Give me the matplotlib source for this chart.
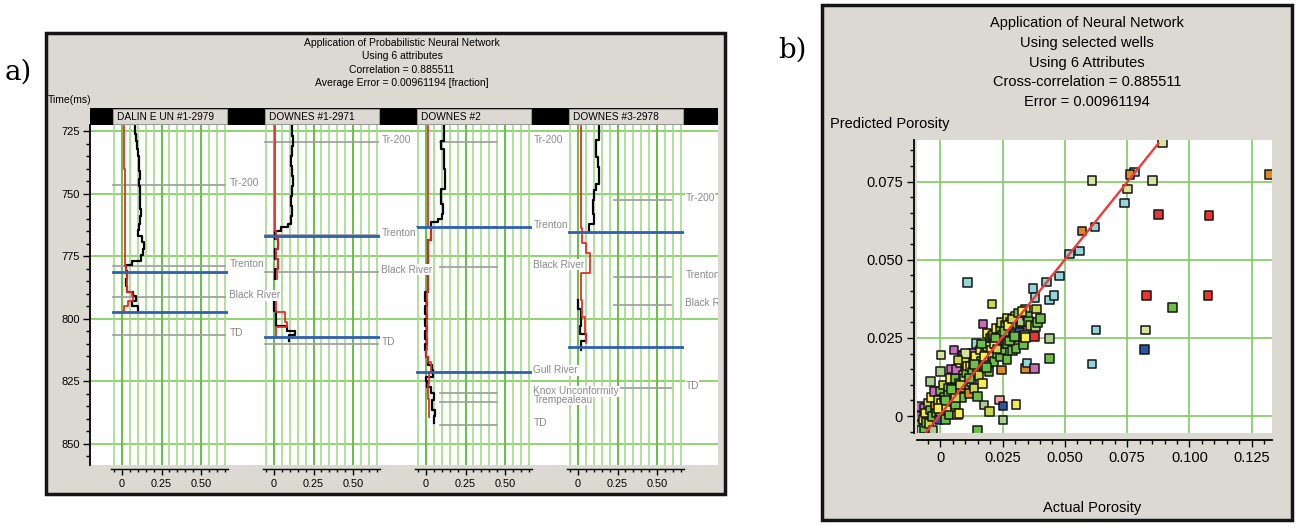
import matplotlib
matplotlib.use('Agg')
import numpy as np
import matplotlib.pyplot as plt
from matplotlib.patches import Rectangle
from matplotlib.ticker import MultipleLocator, FixedLocator, FixedFormatter
import matplotlib.transforms as mtransforms

plt.rcParams['font.family'] = ['Liberation Sans', 'DejaVu Sans']
nan = float('nan')

# ======================= DATA : panel a =======================
title_a = ['Application of Probabilistic Neural Network', 'Using 6 attributes',
           'Correlation = 0.885511', 'Average Error = 0.00961194 [fraction]']
well_names = ['DALIN E UN #1-2979', 'DOWNES #1-2971', 'DOWNES #2', 'DOWNES #3-2978']
time_ticks = [725, 750, 775, 800, 825, 850]
track_ticks = [0, 0.25, 0.50]
track_tick_labels = ['0', '0.25', '0.50']

# well 1
w1_act_t = [723, 726, 729, 732, 735, 738, 741, 744, 747, 750, 753, 756, 759, 762, 764.5,
            767, 769.5, 772, 774.5, 777, 778.5, 781, 784, 787, 789.5, 791, 793, 795, 797]
w1_act_v = [0.082, 0.088, 0.095, 0.100, 0.106, 0.110, 0.112, 0.108, 0.113, 0.115, 0.112,
            0.118, 0.114, 0.110, 0.099, 0.125, 0.140, 0.132, 0.118, 0.062, 0.025, 0.030,
            0.028, 0.034, 0.072, 0.090, 0.066, 0.100, 0.100]
w1_pred_t = [723, 740, 760, 779, 782, 786, 789.2, 791, 793, 795, 797]
w1_pred_v = [0.015, 0.017, 0.016, 0.028, 0.034, 0.030, 0.062, 0.072, 0.040, 0.012, 0.012]
# well 2
w2_act_t = [723, 727, 731, 735, 739, 743, 747, 751, 755, 759, 762, 763.5, 765, 768, 772,
            776, 780, 784, 793, 797, 803, 805, 806.5, 809]
w2_act_v = [0.112, 0.118, 0.114, 0.110, 0.115, 0.120, 0.112, 0.108, 0.115, 0.110, 0.090,
            0.045, 0.005, 0.025, 0.004, 0.028, 0.009, nan, 0.002, 0.010, 0.080, 0.135,
            0.095, 0.095]
w2_pred_t = [723, 740, 760, 765, 768, 772, 776, 780, 784, 793, 797.2, 801.2, 803.2, 805.1, 807.1]
w2_pred_v = [0.008, 0.009, 0.008, 0.015, 0.025, 0.012, 0.028, 0.018, nan, 0.010, 0.070,
             0.084, 0.010, 0.010, 0.010]
# well 3
w3_act_t = [723, 729, 732, 740, 748, 754, 758, 760, 761.2, 763.2, 768.5, 789.2, 793, 795,
            798, 800, 803, 805, 808, 810, 812.5, 815.1, 818.5, 820.5, 823.1, 825, 827.1,
            829.8, 832.5, 836.5, 839, 841.8]
w3_act_v = [0.111, 0.097, 0.111, 0.118, 0.097, 0.105, 0.100, 0.075, 0.030, 0.029, 0.011,
            -0.004, 0.004, -0.004, 0.004, -0.004, 0.004, -0.004, 0.004, -0.004, 0.000,
            0.012, 0.035, 0.045, -0.002, 0.005, 0.030, 0.050, 0.040, 0.055, 0.050, 0.050]
w3_pred_t = [723, 763.2, 768.5, 789.2, 812.5, 815.1, 817.1, 821.1, 826, 832, 839.1]
w3_pred_v = [0.013, 0.029, 0.011, 0.004, 0.000, 0.012, 0.030, 0.018, 0.014, 0.020, 0.020]
# well 4
w4_act_t = [723, 728.6, 735.3, 739.3, 746, 748.6, 752.6, 758, 762, 764.9,
            792.5, 796, 799.2, 803, 806, 809, 812.5]
w4_act_v = [0.131, 0.117, 0.125, 0.133, 0.117, 0.103, 0.093, 0.103, 0.067, nan,
            0.002, 0.020, 0.022, 0.012, 0.050, 0.020, 0.020]
w4_pred_t = [723, 763.9, 769.9, 773.9, 781.9, 792.5, 799.2, 805.8, 809.8]
w4_pred_v = [0.017, 0.027, 0.053, 0.074, 0.017, 0.027, 0.042, 0.049, 0.049]

actual_t = [w1_act_t, w2_act_t, w3_act_t, w4_act_t]
actual_v = [w1_act_v, w2_act_v, w3_act_v, w4_act_v]
pred_t = [w1_pred_t, w2_pred_t, w3_pred_t, w4_pred_t]
pred_v = [w1_pred_v, w2_pred_v, w3_pred_v, w4_pred_v]

# zone boundaries (blue) per well
blue_times = [[781.4, 797.4], [766.9, 807.4], [763.2, 821.1], [765.2, 811.1]]
# formation tops per well
top_names = [['Tr-200', 'Trenton', 'Black River', 'TD'],
             ['Tr-200', 'Trenton', 'Black River', 'TD'],
             ['Tr-200', 'Trenton', 'Black River', 'Gull River', 'Knox Unconformity',
              'Trempealeau', 'TD'],
             ['Tr-200', 'Trenton', 'Black River', 'TD']]
top_times = [[746.6, 778.8, 791.4, 806.5],
             [729.5, 766.5, 781.2, 810.2],
             [729.5, 763.2, 779.2, 821.4, 829.7, 833.2, 842.4],
             [752.6, 783.4, 794.5, 827.6]]

# ======================= DATA : panel b =======================
title_b = ['Application of Neural Network', 'Using selected wells', 'Using 6 Attributes',
           'Cross-correlation = 0.885511', 'Error = 0.00961194']
x_ticks_b = [0, 0.025, 0.050, 0.075, 0.100, 0.125]
x_tick_labels_b = ['0', '0.025', '0.050', '0.075', '0.100', '0.125']
y_ticks_b = [0, 0.025, 0.050, 0.075]
y_tick_labels_b = ['0', '0.025', '0.050', '0.075']

actual_porosity = [
    -0.0085, -0.0080, -0.0075, -0.0083, -0.0085, -0.0070, -0.0065, -0.0065, -0.0060, -0.0055,
    -0.0050, -0.0045, -0.0040, -0.0040, -0.0035, -0.0032, -0.0030, -0.0025, -0.0020, -0.0015,
    -0.0010, -0.0005, 0.0000, 0.0000, 0.0001, 0.0003, 0.0005, 0.0010, 0.0015, 0.0020,
    0.0025, 0.0030, 0.0032, 0.0035, 0.0040, 0.0045, 0.0050, 0.0055, 0.0055, 0.0060,
    0.0061, 0.0065, 0.0069, 0.0070, 0.0075, 0.0075, 0.0080, 0.0085, 0.0088, 0.0090,
    0.0093, 0.0095, 0.0098, 0.0101, 0.0105, 0.0109, 0.0110, 0.0115, 0.0120, 0.0125,
    0.0128, 0.0130, 0.0133, 0.0135, 0.0140, 0.0144, 0.0148, 0.0148, 0.0150, 0.0155,
    0.0160, 0.0165, 0.0168, 0.0171, 0.0175, 0.0178, 0.0182, 0.0187, 0.0188, 0.0190,
    0.0194, 0.0195, 0.0198, 0.0200, 0.0205, 0.0207, 0.0208, 0.0210, 0.0214, 0.0215,
    0.0220, 0.0225, 0.0230, 0.0235, 0.0238, 0.0240, 0.0242, 0.0245, 0.0246, 0.0247,
    0.0250, 0.0251, 0.0251, 0.0255, 0.0260, 0.0265, 0.0267, 0.0267, 0.0267, 0.0268,
    0.0275, 0.0280, 0.0285, 0.0290, 0.0295, 0.0300, 0.0304, 0.0304, 0.0310, 0.0318,
    0.0320, 0.0325, 0.0330, 0.0334, 0.0338, 0.0341, 0.0341, 0.0341, 0.0347, 0.0350,
    0.0354, 0.0360, 0.0371, 0.0377, 0.0377, 0.0380, 0.0381, 0.0385, 0.0390, 0.0401,
    0.0165, 0.0175, 0.0185, 0.0215, 0.0222, 0.0228, 0.0258, 0.0272, 0.0278, 0.0290,
    0.0298, 0.0312, 0.0328, 0.0060, 0.0020, -0.0010, 0.0045, 0.0080, 0.0118, 0.0138,
    0.0100, 0.0070,
    0.0427, 0.0438, 0.0438, 0.0438, 0.0457, 0.0478, 0.0518, 0.0558, 0.0568, 0.0608,
    0.0608, 0.0621, 0.0625, 0.0738, 0.0751, 0.0779, 0.0761, 0.0819, 0.0823, 0.0828,
    0.0852, 0.0875, 0.0892, 0.0932, 0.1075, 0.1079, 0.1322]
predicted_porosity = [
    -0.0040, -0.0030, -0.0045, 0.0000, 0.0030, -0.0010, -0.0040, 0.0025, 0.0010, -0.0020,
    0.0040, -0.0023, 0.0110, 0.0020, 0.0060, -0.0002, -0.0045, 0.0078, 0.0030, 0.0010,
    0.0050, -0.0010, 0.0014, 0.0080, 0.0142, 0.0195, 0.0040, 0.0100, 0.0060, -0.0010,
    0.0025, 0.0090, 0.0067, 0.0003, 0.0120, 0.0150, 0.0045, 0.0211, 0.0090, 0.0035,
    0.0120, 0.0149, 0.0003, 0.0075, 0.0009, 0.0105, 0.0170, 0.0060, 0.0195, 0.0130,
    0.0195, 0.0120, 0.0090, 0.0174, 0.0140, 0.0428, 0.0160, 0.0073, 0.0158, 0.0110,
    0.0200, 0.0140, 0.0168, 0.0089, 0.0190, 0.0232, 0.0062, -0.0045, 0.0150, 0.0130,
    0.0211, 0.0175, 0.0105, 0.0294, 0.0035, 0.0160, 0.0200, 0.0222, 0.0264, 0.0180,
    0.0168, 0.0142, 0.0014, 0.0250, 0.0210, 0.0358, 0.0254, 0.0190, 0.0259, 0.0174,
    0.0230, 0.0280, 0.0200, 0.0240, 0.0051, 0.0280, 0.0190, 0.0300, 0.0147, 0.0211,
    0.0260, 0.0032, -0.0013, 0.0230, 0.0290, 0.0240, 0.0312, 0.0259, 0.0181, 0.0232,
    0.0270, 0.0300, 0.0250, 0.0210, 0.0280, 0.0320, 0.0216, 0.0037, 0.0290, 0.0269,
    0.0300, 0.0302, 0.0250, 0.0227, 0.0260, 0.0252, 0.0343, 0.0152, 0.0170, 0.0320,
    0.0302, 0.0290, 0.0408, 0.0254, 0.0152, 0.0379, 0.0286, 0.0343, 0.0300, 0.0312,
    0.0230, 0.0190, 0.0155, 0.0230, 0.0250, 0.0215, 0.0270, 0.0290, 0.0240, 0.0310,
    0.0255, 0.0330, 0.0335, 0.0060, 0.0050, 0.0025, 0.0085, 0.0100, 0.0120, 0.0165,
    0.0200, 0.0180,
    0.0429, 0.0371, 0.0248, 0.0185, 0.0385, 0.0448, 0.0518, 0.0528, 0.0592, 0.0754,
    0.0166, 0.0605, 0.0275, 0.0682, 0.0727, 0.0781, 0.0773, 0.0213, 0.0275, 0.0385,
    0.0754, 0.0645, 0.0874, 0.0347, 0.0385, 0.0642, 0.0773]
point_group = [
    'CY', 'GR', 'PG', 'PK', 'PK', 'YG', 'GR', 'PK', 'YE', 'GR',
    'YG', 'YG', 'PG', 'GR', 'YE', 'GR', 'PG', 'PK', 'OR', 'GR',
    'YG', 'BL', 'GR', 'GR', 'PG', 'LG', 'YE', 'YG', 'GR', 'GR',
    'YE', 'GR', 'GR', 'GR', 'YE', 'PK', 'GR', 'PK', 'YG', 'GR',
    'GR', 'PK', 'YE', 'OR', 'YE', 'GR', 'YE', 'GR', 'PK', 'YG',
    'PK', 'YG', 'GR', 'YG', 'GR', 'CY', 'YE', 'OR', 'YE', 'CY',
    'PK', 'GR', 'YG', 'YG', 'YE', 'CY', 'GR', 'GR', 'GR', 'YG',
    'YE', 'GR', 'YE', 'PK', 'PG', 'GR', 'YG', 'YG', 'YE', 'CY',
    'GR', 'GR', 'YG', 'GR', 'YE', 'YG', 'GR', 'YG', 'YG', 'GR',
    'BL', 'YE', 'GR', 'YG', 'SA', 'GR', 'GR', 'YG', 'OR', 'GR',
    'YE', 'BL', 'PG', 'RD', 'GR', 'PG', 'YG', 'YE', 'GR', 'GR',
    'YG', 'GR', 'BL', 'GR', 'YG', 'YE', 'GR', 'YE', 'GR', 'BL',
    'YG', 'PG', 'GR', 'GR', 'YG', 'YE', 'YG', 'OR', 'CY', 'GR',
    'GR', 'YG', 'CY', 'RD', 'PK', 'CY', 'PG', 'YG', 'GR', 'GR',
    'GR', 'YE', 'GR', 'YE', 'GR', 'YG', 'GR', 'YE', 'GR', 'YG',
    'GR', 'GR', 'YE', 'YG', 'GR', 'YE', 'GR', 'YG', 'GR', 'GR',
    'LG', 'YG',
    'CY', 'CY', 'PG', 'GR', 'CY', 'CY', 'CY', 'CY', 'OR', 'LG',
    'CY', 'CY', 'CY', 'CY', 'LG', 'CY', 'OR', 'BL', 'LG', 'RD',
    'LG', 'RD', 'LG', 'GR', 'RD', 'RD', 'OR']
fit_x = [-0.0056, 0.0875]
fit_y = [-0.0050, 0.0872]

group_colors = {'LG': '#d7e59c', 'CY': '#8fd7dc', 'GR': '#6cbf46', 'YE': '#f6ee4c',
                'YG': '#c8d84a', 'PK': '#c96cbd', 'OR': '#da8a2a', 'RD': '#ee3333',
                'BL': '#2c55a6', 'SA': '#f2a3a0', 'PG': '#a8cf8c'}

# ======================= FIGURE =======================
W, H = 1300.0, 526.0
fig = plt.figure(figsize=(13, 5.26), dpi=100)
fig.patch.set_facecolor('white')


def fx(p):
    return p / W


def fy(p):
    return 1 - p / H


def ax_at(x0, y0, x1, y1, **kw):
    return fig.add_axes([fx(x0), fy(y1), (x1 - x0) / W, (y1 - y0) / H], **kw)


PANEL = '#dcd9d3'
fig.add_artist(Rectangle((fx(46), fy(494)), (725 - 46) / W, (494 - 33) / H,
                         transform=fig.transFigure, facecolor=PANEL,
                         edgecolor='#151515', lw=2.5, zorder=-5))
fig.add_artist(Rectangle((fx(822), fy(520)), (1292 - 822) / W, (520 - 5) / H,
                         transform=fig.transFigure, facecolor=PANEL,
                         edgecolor='#151515', lw=2.5, zorder=-5))

fig.text(fx(5), fy(72), 'a)', fontsize=20, family='DejaVu Serif', ha='left', va='center')
fig.text(fx(778), fy(50), 'b)', fontsize=20, family='DejaVu Serif', ha='left', va='center')

# ---------------- panel a ----------------
for i, line in enumerate(title_a):
    fig.text(fx(402), fy(43 + 13.4 * i), line, ha='center', va='center', fontsize=7.5)
fig.text(fx(48), fy(100), 'Time(ms)', ha='left', va='center', fontsize=7.5)

t_top, t_bot = 722.6, 858.4
bg = ax_at(90, 125, 718, 465, zorder=0)
bg.set_facecolor('white')
bg.set_xlim(0, 1)
bg.set_ylim(t_bot, t_top)
bg.yaxis.set_major_locator(FixedLocator(time_ticks))
bg.yaxis.set_minor_locator(MultipleLocator(5))
bg.set_xticks([])
for s in ['top', 'right', 'bottom']:
    bg.spines[s].set_visible(False)
bg.spines['left'].set_linewidth(1.3)
bg.tick_params(axis='y', which='major', length=5, width=1, labelsize=8, pad=2)
bg.tick_params(axis='y', which='minor', length=3, width=1)
bg.grid(axis='y', which='major', color='#8fd46f', lw=1.4)
bg.set_axisbelow(True)

hdr = ax_at(90, 108, 718, 125, zorder=0.5)
hdr.set_facecolor('black')
hdr.set_xticks([])
hdr.set_yticks([])
for s in hdr.spines.values():
    s.set_visible(False)

track_zero_px = [122, 274, 426, 578]
ppu = 158.0
x_lo, x_hi = -0.07, 0.67
top_span = [(-0.058, 0.652), (-0.055, 0.66), (0.09, 0.45), (0.23, 0.59)]

for i in range(4):
    z = track_zero_px[i]
    trk = ax_at(z + x_lo * ppu, 125, z + x_hi * ppu, 465, zorder=10 - i)
    trk.set_facecolor('none')
    trk.set_xlim(x_lo, x_hi)
    trk.set_ylim(t_bot, t_top)
    trk.xaxis.set_major_locator(FixedLocator(track_ticks))
    trk.xaxis.set_major_formatter(FixedFormatter(track_tick_labels))
    trk.xaxis.set_minor_locator(MultipleLocator(0.05))
    trk.set_yticks([])
    for s in ['top', 'right', 'left']:
        trk.spines[s].set_visible(False)
    trk.spines['bottom'].set_position(('outward', 3))
    trk.spines['bottom'].set_linewidth(1.0)
    trk.grid(axis='x', which='major', color='#6cc04a', lw=1.5)
    trk.grid(axis='x', which='minor', color='#a3da8a', lw=1.2)
    trk.set_axisbelow(True)
    trk.tick_params(axis='x', which='major', length=4, width=1, labelsize=7.8, pad=3)
    trk.tick_params(axis='x', which='minor', length=2.5, width=1)

    trans = mtransforms.blended_transform_factory(trk.transData, trk.transAxes)
    trk.add_patch(Rectangle((-0.055, 1 + 1 / 340), 0.722, 15 / 340, transform=trans,
                            clip_on=False, facecolor=PANEL, edgecolor='#9a9a9a',
                            lw=0.8, zorder=6))
    trk.text(-0.032, 1 + 8.5 / 340, well_names[i], transform=trans, ha='left',
             va='center', fontsize=7.3, clip_on=False, zorder=7)

    g0, g1 = top_span[i]
    for name, tt in zip(top_names[i], top_times[i]):
        trk.plot([g0, g1], [tt, tt], color='#a2a2a2', lw=1.3, zorder=2)
        txt = trk.text(0.68, tt - 0.8, name, fontsize=7.3, color='#8a8a8a',
                       ha='left', va='center', zorder=8, clip_on=True,
                       bbox=dict(facecolor='white', edgecolor='none', pad=0.4))
        txt.set_clip_path(bg.patch)

    trk.plot(actual_v[i], actual_t[i], drawstyle='steps-pre', color='black', lw=1.6, zorder=3)
    trk.plot(pred_v[i], pred_t[i], drawstyle='steps-pre', color='#ee2a2a', lw=1.3, zorder=3.5)
    for bt in blue_times[i]:
        trk.plot([-0.06, 0.662], [bt, bt], color='#2f5fb3', lw=2.0, zorder=4)

# ---------------- panel b ----------------
for i, line in enumerate(title_b):
    fig.text(fx(1087), fy(23.3 + 19.7 * i), line, ha='center', va='center', fontsize=10.5)
fig.text(fx(830), fy(124), 'Predicted Porosity', ha='left', va='center', fontsize=10.5)
fig.text(fx(1092), fy(508), 'Actual Porosity', ha='center', va='center', fontsize=10.5)

sc = ax_at(916.7, 140, 1271.7, 433, zorder=1)
sc.set_facecolor('white')
sc.set_xlim(-0.0095, 0.133)
sc.set_ylim(-0.0054, 0.0883)
sc.xaxis.set_major_locator(FixedLocator(x_ticks_b))
sc.xaxis.set_major_formatter(FixedFormatter(x_tick_labels_b))
sc.yaxis.set_major_locator(FixedLocator(y_ticks_b))
sc.yaxis.set_major_formatter(FixedFormatter(y_tick_labels_b))
sc.xaxis.set_minor_locator(MultipleLocator(0.005))
sc.yaxis.set_minor_locator(MultipleLocator(0.005))
for s in ['top', 'right']:
    sc.spines[s].set_visible(False)
sc.spines['bottom'].set_position(('outward', 5))
sc.spines['left'].set_position(('outward', 2))
sc.spines['bottom'].set_linewidth(1.3)
sc.spines['left'].set_linewidth(1.3)
sc.grid(which='major', color='#82c862', lw=1.2)
sc.set_axisbelow(True)
sc.tick_params(which='major', length=5, width=1, labelsize=10.5, pad=3)
sc.tick_params(which='minor', length=3, width=1)
sc.scatter(actual_porosity, predicted_porosity, s=38, marker='s',
           c=[group_colors[g] for g in point_group], edgecolors='#151515',
           linewidths=1.1, zorder=3)
sc.plot(fit_x, fit_y, color='#f03a3a', lw=1.7, zorder=4)

fig.savefig('out.png', dpi=100)
